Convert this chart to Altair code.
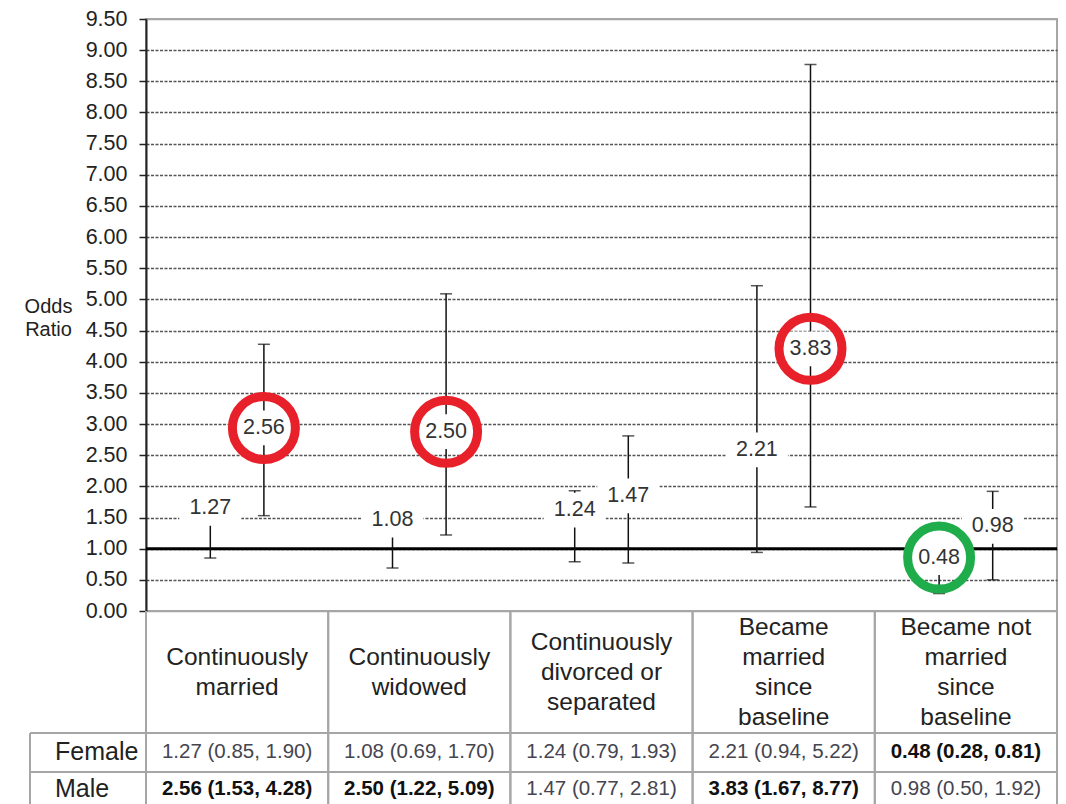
import altair as alt
import pandas as pd

FONT = "Liberation Sans"

categories = [
    "Continuously married",
    "Continuously widowed",
    "Continuously divorced or separated",
    "Became married since baseline",
    "Became not married since baseline",
]
header_labels = [
    "Continuously\nmarried",
    "Continuously\nwidowed",
    "Continuously\ndivorced or\nseparated",
    "Became\nmarried\nsince\nbaseline",
    "Became not\nmarried\nsince\nbaseline",
]
sexes = ["Female", "Male"]

female_or = [1.27, 1.08, 1.24, 2.21, 0.48]
female_lo = [0.85, 0.69, 0.79, 0.94, 0.28]
female_hi = [1.90, 1.70, 1.93, 5.22, 0.81]

male_or = [2.56, 2.50, 1.47, 3.83, 0.98]
male_lo = [1.53, 1.22, 0.77, 1.67, 0.50]
male_hi = [4.28, 5.09, 2.81, 8.77, 1.92]

y_ticks = [0.0, 0.5, 1.0, 1.5, 2.0, 2.5, 3.0, 3.5, 4.0, 4.5, 5.0,
           5.5, 6.0, 6.5, 7.0, 7.5, 8.0, 8.5, 9.0, 9.5]
reference_value = 1.0

rows = []
for i, cat in enumerate(categories):
    for sex, o, lo, hi in [
        ("Female", female_or[i], female_lo[i], female_hi[i]),
        ("Male", male_or[i], male_lo[i], male_hi[i]),
    ]:
        sig = "higher" if lo > 1 else ("lower" if hi < 1 else "none")
        rows.append(dict(category=cat, sex=sex, odds=o, lo=lo, hi=hi,
                         label=f"{o:.2f}",
                         cell=f"{o:.2f} ({lo:.2f}, {hi:.2f})", sig=sig))
df = pd.DataFrame(rows)
df_cat = pd.DataFrame({"category": categories, "header": header_labels,
                       "nlines": [h.count("\n") + 1 for h in header_labels]})
df_ref = pd.DataFrame({"ref": [reference_value]})
df_sex = pd.DataFrame({"sex": sexes})

W, H = 911, 592

x_scale = alt.Scale(paddingInner=0, paddingOuter=0)
x_enc = alt.X("category:N", sort=categories, scale=x_scale, axis=None)
xo_enc = alt.XOffset("sex:N", sort=sexes,
                     scale=alt.Scale(paddingInner=0, paddingOuter=0.7))
y_scale = alt.Scale(domain=[0, 9.5], nice=False, zero=True)
edge_test = "datum.value == 0 || datum.value == 9.5"
y_axis = alt.Axis(
    values=y_ticks, format=".2f", title=["Odds", "Ratio"],
    titleAngle=0, titleAlign="center", titleBaseline="top",
    titleX=-98, titleY=277, titleFontSize=20, titleFontWeight="normal",
    titleColor="#222222", titleFont=FONT, titleLineHeight=23,
    labelFontSize=21.5, labelColor="#222222", labelFont=FONT, labelPadding=12,
    tickSize=7, tickColor="#222222", tickWidth=1.5,
    domainColor="#222222", domainWidth=2,
    grid=True,
    gridColor={"condition": {"test": edge_test, "value": "#a6a6a6"}, "value": "#555555"},
    gridDash={"condition": {"test": edge_test, "value": []}, "value": [3, 1.5]},
    gridWidth=1.5,
)


def Y(field):
    return alt.Y(field, scale=y_scale, axis=y_axis)


base = alt.Chart(df)

ref_line = alt.Chart(df_ref).mark_rule(color="#000000", strokeWidth=3).encode(
    y=Y("ref:Q"))

err = base.mark_rule(color="#111111", strokeWidth=1.5).encode(
    x=x_enc, xOffset=xo_enc, y=Y("lo:Q"), y2="hi:Q")
cap_lo = base.mark_tick(size=12, thickness=1.5, color="#111111",
                        orient="horizontal").encode(
    x=x_enc, xOffset=xo_enc, y=Y("lo:Q"))
cap_hi = base.mark_tick(size=12, thickness=1.5, color="#111111",
                        orient="horizontal").encode(
    x=x_enc, xOffset=xo_enc, y=Y("hi:Q"))

label_box = base.mark_point(
    shape="M-1,-0.56L1,-0.56L1,0.56L-1,0.56Z", size=3844, filled=True,
    fill="#ffffff", strokeWidth=0, opacity=1, yOffset=-23.5).encode(
    x=x_enc, xOffset=xo_enc, y=Y("odds:Q"))
label_text = base.mark_text(dy=-23.5, fontSize=21.5, color="#333333",
                            font=FONT).encode(
    x=x_enc, xOffset=xo_enc, y=Y("odds:Q"), text="label:N")

circles = base.transform_filter("datum.sig != 'none'").mark_point(
    shape="circle", size=3969, filled=False, strokeWidth=9, opacity=1,
    yOffset=-23.5).encode(
    x=x_enc, xOffset=xo_enc, y=Y("odds:Q"),
    color=alt.Color("sig:N", scale=alt.Scale(domain=["higher", "lower"],
                                             range=["#e8202a", "#1fad4b"]),
                    legend=None))

# ---- data table below the plot ----
GRID = "#a6a6a6"
TABLE_LEFT = -116
ROW_TOPS = [714, 753, 787]
v_left = alt.Chart(df_cat).mark_rule(color=GRID, strokeWidth=2).encode(
    x=alt.X("category:N", sort=categories, scale=x_scale, axis=None, bandPosition=0),
    y=alt.value(H), y2=alt.value(820))
v_right = alt.Chart(df_cat).mark_rule(color=GRID, strokeWidth=2).encode(
    x=alt.X("category:N", sort=categories, scale=x_scale, axis=None, bandPosition=1),
    y=alt.value(H), y2=alt.value(820))
h_lines = []
for yy in ROW_TOPS:
    h_lines.append(alt.Chart(df_ref).mark_rule(color=GRID, strokeWidth=2).encode(
        x=alt.value(TABLE_LEFT), x2=alt.value(W), y=alt.value(yy)))
left_border = alt.Chart(df_ref).mark_rule(color=GRID, strokeWidth=2).encode(
    x=alt.value(TABLE_LEFT), y=alt.value(ROW_TOPS[0]), y2=alt.value(820))

HEADER_CENTER = 654
LINE_H = 30
header_layers = []
for n in sorted(set(df_cat["nlines"])):
    header_layers.append(alt.Chart(df_cat).transform_filter(
        f"datum.nlines == {n}").mark_text(
        lineBreak="\n", lineHeight=LINE_H, fontSize=24.5, baseline="middle",
        align="center", color="#222222", font=FONT).encode(
        x=alt.X("category:N", sort=categories, scale=x_scale, axis=None),
        y=alt.value(HEADER_CENTER - (n - 1) * LINE_H / 2), text="header:N"))

row_y = {"Female": 733, "Male": 770}
row_layers = []
for sex in sexes:
    row_layers.append(alt.Chart(df_sex).transform_filter(
        alt.datum.sex == sex).mark_text(
        align="left", baseline="middle", fontSize=25, color="#222222",
        font=FONT).encode(x=alt.value(-91), y=alt.value(row_y[sex]), text="sex:N"))
    for sig_is_bold in [False, True]:
        cond = (f"datum.sex == '{sex}' && datum.sig != 'none'" if sig_is_bold
                else f"datum.sex == '{sex}' && datum.sig == 'none'")
        row_layers.append(base.transform_filter(cond).mark_text(
            align="center", baseline="middle", fontSize=20.5,
            fontWeight="bold" if sig_is_bold else "normal",
            color="#111111" if sig_is_bold else "#454550", font=FONT).encode(
            x=alt.X("category:N", sort=categories, scale=x_scale, axis=None),
            y=alt.value(row_y[sex]), text="cell:N"))

chart = alt.layer(
    ref_line, err, cap_lo, cap_hi, label_box, label_text, circles,
    v_left, v_right, *h_lines, left_border, *header_layers, *row_layers,
).properties(
    width=W, height=H,
    autosize=alt.AutoSizeParams(type="none"),
    padding={"left": 138, "top": 11, "right": 1, "bottom": 210},
).configure(font=FONT).configure_view(stroke=GRID, strokeWidth=2)

chart.save("out.html", embed_options={"renderer": "svg", "actions": False})
